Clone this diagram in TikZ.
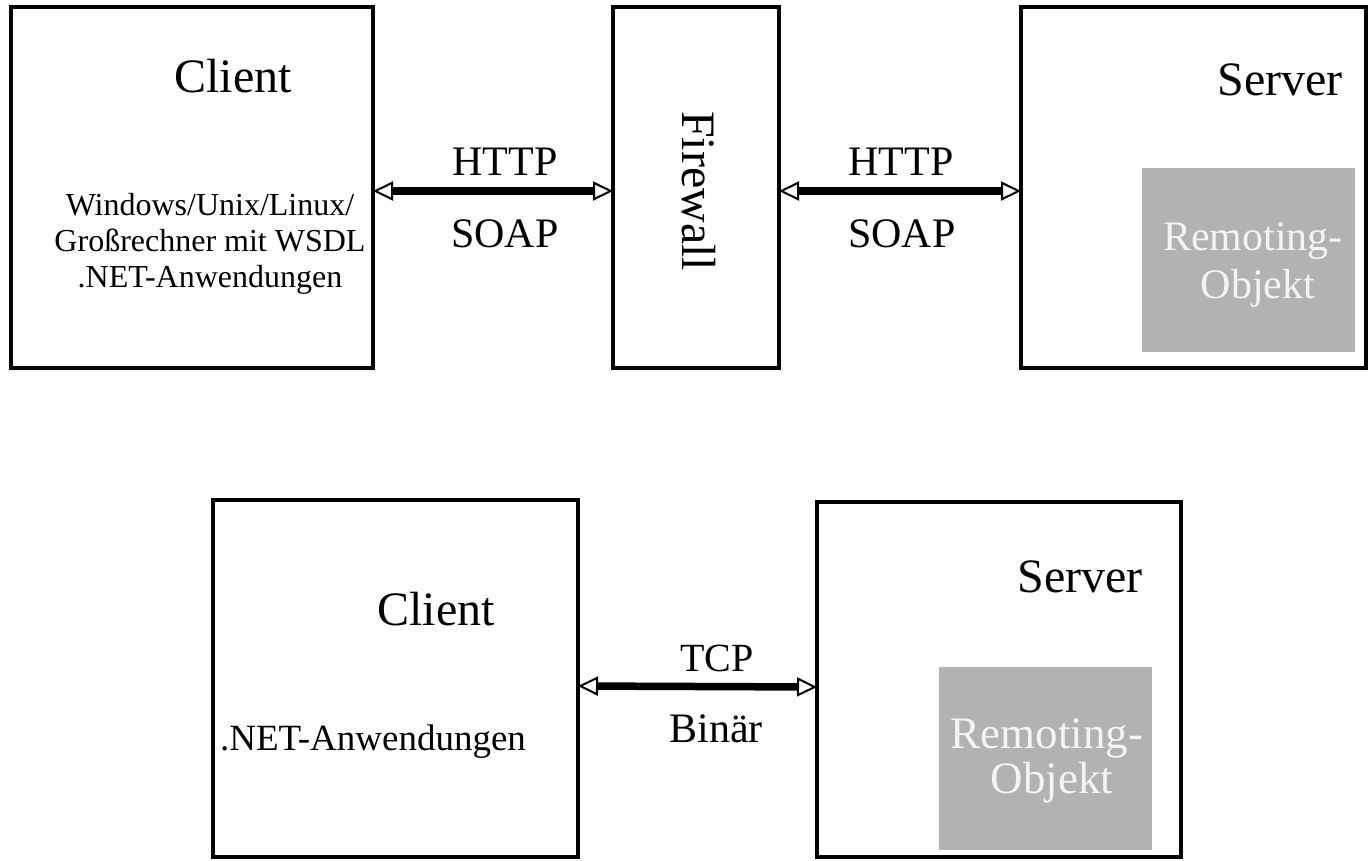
\documentclass[tikz,border=0pt]{standalone}
\usepackage{fontspec}
\setmainfont{Liberation Serif}
\usetikzlibrary{arrows.meta}
\definecolor{remgray}{HTML}{B2B2B2}
\definecolor{remtext}{HTML}{F4F4F4}
\begin{document}
\begin{tikzpicture}[x=1pt,y=-1pt,
  box/.style={draw=black, line width=3.5pt, inner sep=0pt, outer sep=0pt, fill=white},
  grey/.style={fill=remgray, draw=none, inner sep=0pt},
  lbl/.style={inner sep=0pt, anchor=base},
  tip/.tip={Triangle[open,length=20pt,width=19pt,line width=2pt]},
  conn/.style={line width=7.5pt, tip-tip}]
\useasboundingbox[fill=white] (0,0) rectangle (1368,860);
% top row
\node[box, minimum width=362pt, minimum height=361pt] (c1) at (192,187.5) {};
\node[box, minimum width=166pt, minimum height=361pt] (fw) at (696,187.5) {};
\node[box, minimum width=345pt, minimum height=361pt] (s1) at (1193.5,187.5) {};
\node[grey, minimum width=213pt, minimum height=184pt] (r1) at (1248.5,260) {};
% bottom row
\node[box, minimum width=365pt, minimum height=357pt] (c2) at (395.5,678.5) {};
\node[box, minimum width=364pt, minimum height=355pt] (s2) at (999,679.5) {};
\node[grey, minimum width=213pt, minimum height=183pt] (r2) at (1045.5,758.5) {};
% connectors
\draw[conn] ([yshift=-3.5pt]c1.east) -- ([yshift=-3.5pt]fw.west);
\draw[conn] ([yshift=-3.5pt]fw.east) -- ([yshift=-3.5pt]s1.west);
\draw[conn] ([yshift=-7.5pt]c2.east) -- ([yshift=-7.5pt]s2.west);
% texts top
\node[lbl, font=\fontsize{48}{48}\selectfont] (tc1) at (233,92) {Client};
\node[lbl, font=\fontsize{32}{36}\selectfont] (tw1) at (210,215) {Windows/Unix/Linux/};
\node[lbl, font=\fontsize{32}{36}\selectfont] (tw2) at (210,251) {Großrechner mit WSDL};
\node[lbl, font=\fontsize{32}{36}\selectfont] (tw3) at (210,287) {.NET-Anwendungen};
\node[lbl, font=\fontsize{42}{42}\selectfont] (h1) at (505,175) {HTTP};
\node[lbl, font=\fontsize{42}{42}\selectfont] (so1) at (505,247) {SOAP};
\node[inner sep=0pt, rotate=-90, font=\fontsize{48}{48}\selectfont] (tfw) at (698.5,191) {Firewall};
\node[lbl, font=\fontsize{42}{42}\selectfont] (h2) at (901,175) {HTTP};
\node[lbl, font=\fontsize{42}{42}\selectfont] (so2) at (902,247) {SOAP};
\node[lbl, font=\fontsize{48}{48}\selectfont] (ts1) at (1280,95) {Server};
\node[lbl, font=\fontsize{42}{42}\selectfont, text=remtext] (tr1a) at (1253,250) {Remoting-};
\node[lbl, font=\fontsize{42}{42}\selectfont, text=remtext] (tr1b) at (1258,298) {Objekt};
% texts bottom
\node[lbl, font=\fontsize{48}{48}\selectfont] (tc2) at (436,625) {Client};
\node[lbl, font=\fontsize{37}{37}\selectfont] (tn2) at (373,750) {.NET-Anwendungen};
\node[lbl, font=\fontsize{40}{40}\selectfont] (tcp) at (717,671) {TCP};
\node[lbl, font=\fontsize{42}{42}\selectfont] (bin) at (716,742) {Binär};
\node[lbl, font=\fontsize{48}{48}\selectfont] (ts2) at (1080,592) {Server};
\node[lbl, font=\fontsize{45}{45}\selectfont, text=remtext] (tr2a) at (1047,748) {Remoting-};
\node[lbl, font=\fontsize{45}{45}\selectfont, text=remtext] (tr2b) at (1052,793) {Objekt};
\end{tikzpicture}
\end{document}
